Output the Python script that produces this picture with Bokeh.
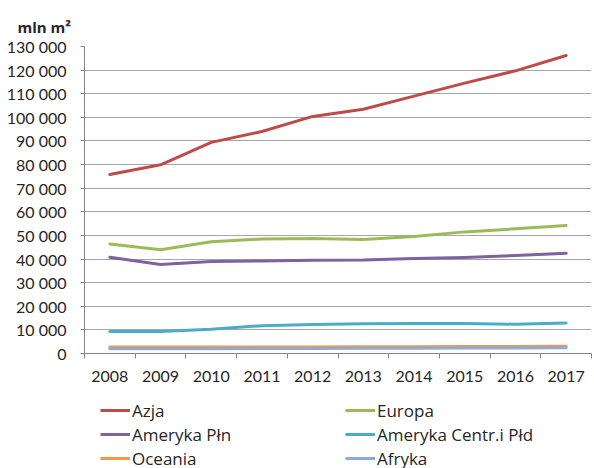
from bokeh.plotting import figure
from bokeh.models import FixedTicker, Legend, LegendItem, Range1d
from bokeh.layouts import column
from bokeh.embed import file_html
from bokeh.resources import INLINE

years = ["2008", "2009", "2010", "2011", "2012", "2013", "2014", "2015", "2016", "2017"]
azja = [75800, 79900, 89400, 94000, 100400, 103400, 109000, 114500, 119700, 126200]
europa = [46400, 43900, 47300, 48500, 48700, 48300, 49500, 51500, 52800, 54200]
ameryka_pln = [40800, 37700, 39000, 39200, 39500, 39600, 40200, 40700, 41500, 42400]
ameryka_cp = [9300, 9300, 10300, 11800, 12300, 12600, 12700, 12700, 12400, 12900]
oceania = [2700, 2700, 2700, 2800, 2800, 2900, 2900, 3000, 3000, 3100]
afryka = [2000, 2000, 2000, 2100, 2100, 2200, 2200, 2300, 2300, 2400]

series_names = ["Azja", "Europa", "Ameryka Płn", "Ameryka Centr.i Płd", "Oceania", "Afryka"]
series_values = [azja, europa, ameryka_pln, ameryka_cp, oceania, afryka]
series_colors = ["#BE4B48", "#9BBB59", "#7E62A1", "#4BACC6", "#F79646", "#8EA9DB"]

y_ticks = [0, 10000, 20000, 30000, 40000, 50000, 60000, 70000, 80000, 90000,
           100000, 110000, 120000, 130000]
y_tick_labels = ["0", "10 000", "20 000", "30 000", "40 000", "50 000", "60 000",
                 "70 000", "80 000", "90 000", "100 000", "110 000", "120 000", "130 000"]

FONT = "Lato"
LFONT = "Open Sans"
TXT = "#262626"

n = len(years)
xs = [i + 0.5 for i in range(n)]

p = figure(width=594, height=395, output_backend="svg", toolbar_location=None,
           x_range=Range1d(0, n), y_range=Range1d(0, 130000),
           min_border_left=84, min_border_right=3, min_border_top=46, min_border_bottom=42)
p.outline_line_color = None
p.background_fill_color = "white"
p.border_fill_color = "white"

for name, vals, col in zip(series_names, series_values, series_colors):
    p.line(xs, vals, line_color=col, line_width=3, line_join="round", line_cap="round")

# x axis
p.xaxis.ticker = FixedTicker(ticks=xs, minor_ticks=list(range(n + 1)))
p.xaxis.major_label_overrides = {x: y for x, y in zip(xs, years)}
p.xaxis.major_tick_line_color = None
p.xaxis.minor_tick_in = 0
p.xaxis.minor_tick_out = 5
p.xaxis.minor_tick_line_color = "#868686"
p.xaxis.axis_line_color = "#868686"
p.xaxis.major_label_standoff = 11
p.xaxis.major_label_text_font = FONT
p.xaxis.major_label_text_font_size = "16px"
p.xaxis.major_label_text_color = TXT
p.xgrid.grid_line_color = None

# y axis
p.yaxis.ticker = FixedTicker(ticks=y_ticks)
p.yaxis.major_label_overrides = {t: l for t, l in zip(y_ticks, y_tick_labels)}
p.yaxis.minor_tick_line_color = None
p.yaxis.major_tick_in = 0
p.yaxis.major_tick_out = 4
p.yaxis.major_tick_line_color = "#868686"
p.yaxis.axis_line_color = "#868686"
p.yaxis.major_label_standoff = 14
p.yaxis.major_label_text_font = FONT
p.yaxis.major_label_text_font_size = "16px"
p.yaxis.major_label_text_color = TXT
p.ygrid.grid_line_color = "#A6A6A6"
p.ygrid.grid_line_width = 1

# title (unit)
p.title.text = "mln m²"
p.title.text_font = LFONT
p.title.text_font_size = "15px"
p.title.text_font_style = "bold"
p.title.text_color = TXT
p.title.align = "left"
p.title.offset = -67
p.title.standoff = 19

# legend strip below the chart (series drawn off-range, only the legend shows)
leg = figure(width=594, height=73, output_backend="svg", toolbar_location=None,
             x_range=Range1d(0, n), y_range=Range1d(0, 1),
             min_border_left=0, min_border_right=0, min_border_top=0, min_border_bottom=0,
             x_axis_location=None, y_axis_location=None)
leg.outline_line_color = None
leg.xgrid.grid_line_color = None
leg.ygrid.grid_line_color = None
leg.border_fill_color = "white"
leg.background_fill_color = "white"

items = []
for name, vals, col in zip(series_names, series_values, series_colors):
    r = leg.line(xs, vals, line_color=col, line_width=3, line_cap="butt")
    items.append(LegendItem(label=name, renderers=[r]))

legend = Legend(items=items, ncols=2, orientation="horizontal", location=(16, -2),
                glyph_width=30, glyph_height=24, label_standoff=2,
                label_width=213, label_height=24, spacing=0, padding=0, margin=0,
                border_line_color=None, background_fill_alpha=0,
                label_text_font=LFONT, label_text_font_size="17px", label_text_color=TXT)
leg.add_layout(legend, "center")

open("out.html", "w").write(file_html(column(p, leg, spacing=0), INLINE))
